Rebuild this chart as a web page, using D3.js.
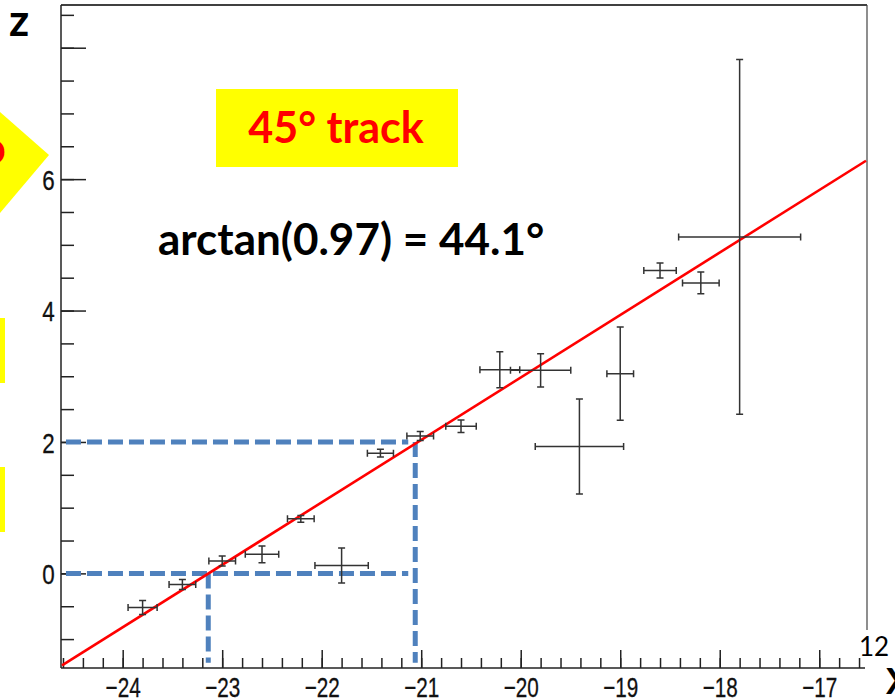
<!DOCTYPE html>
<html>
<head>
<meta charset="utf-8">
<script src="https://cdn.jsdelivr.net/npm/d3@7"></script>
<style>
  body { margin: 0; background: #fff; }
  svg { display: block; }
</style>
</head>
<body>
<svg id="chart" width="895" height="698"></svg>
<script>
// measured points (x, z) with errors
const xVals = [-23.80, -23.40, -23.00, -22.60, -22.21, -21.80, -21.41, -21.01, -20.60, -20.21, -19.80, -19.41, -19.00, -18.60, -18.19, -17.80];
const zVals = [-0.52, -0.17, 0.19, 0.29, 0.83, 0.12, 1.83, 2.09, 2.24, 3.10, 3.09, 1.93, 3.04, 4.61, 4.42, 5.12];
const xErrs = [0.146, 0.134, 0.134, 0.168, 0.134, 0.268, 0.131, 0.134, 0.153, 0.20, 0.303, 0.444, 0.134, 0.163, 0.184, 0.613];
const zErrs = [0.107, 0.076, 0.076, 0.127, 0.05, 0.266, 0.06, 0.068, 0.096, 0.274, 0.254, 0.723, 0.711, 0.114, 0.165, 2.70];

// fitted straight line (end points)
const fitX = [-24.61, -16.53];
const fitZ = [-1.40, 6.28];

// dashed guide lines: z levels and where they meet the fit
const guideZ = [0, 2];
const guideX = [-23.14, -21.06];

const xTicks = [-24, -23, -22, -21, -20, -19, -18, -17];
const yTicks = [0, 2, 4, 6, 8];
const yTickLabels = ["0", "2", "4", "6", ""];

const svg = d3.select("#chart");
const mLeft = 61, mRight = 867, mTop = 5, mBottom = 668;

const x = d3.scaleLinear().domain([-24.62, -16.52]).range([mLeft, mRight]);
const y = d3.scaleLinear().domain([-1.44, 8.65]).range([mBottom, mTop]);

// yellow decorations on the left edge
svg.append("polygon")
  .attr("points", "0,112 49,155 0,213")
  .attr("fill", "#ffff00");
svg.append("rect").attr("x", 0).attr("y", 318).attr("width", 5).attr("height", 65).attr("fill", "#ffff00");
svg.append("rect").attr("x", 0).attr("y", 467).attr("width", 5).attr("height", 65).attr("fill", "#ffff00");
svg.append("text")
  .attr("x", 6).attr("y", 164)
  .attr("text-anchor", "end")
  .style("font-family", "Lato, sans-serif").style("font-weight", "bold")
  .style("font-size", "46px").attr("fill", "#ff0000")
  .text("o");

// frame
svg.append("line").attr("x1", mLeft).attr("x2", mRight).attr("y1", mTop).attr("y2", mTop)
  .attr("stroke", "#000").attr("stroke-width", 1.5);
svg.append("line").attr("x1", mRight).attr("x2", mRight).attr("y1", mTop).attr("y2", 630)
  .attr("stroke", "#444").attr("stroke-width", 1.2);

// x axis
const xMinor = d3.range(-123, -82).map(i => i / 5);
const xAxisG = svg.append("g").attr("transform", "translate(0," + mBottom + ")");
xAxisG.append("g")
  .call(d3.axisBottom(x).tickValues(xMinor).tickSizeInner(-10).tickSizeOuter(0).tickFormat(""))
  .call(g => g.select(".domain").remove());
xAxisG.append("g")
  .call(d3.axisBottom(x).tickValues(xTicks).tickSizeInner(-18).tickSizeOuter(0).tickPadding(9))
  .call(g => g.select(".domain").attr("d", "M" + mLeft + ",0H" + (mRight - 2)));
xAxisG.selectAll("line, path").attr("stroke", "#222").attr("stroke-width", 1.5);
xAxisG.selectAll("text")
  .attr("fill", "#111").attr("stroke", "#111").attr("stroke-width", 0.3)
  .style("font-family", "'Liberation Sans', Arial, sans-serif")
  .style("font-size", "28px")
  .attr("transform", "scale(0.74,1)");

// y axis
const yMinor = d3.range(-2, 18).map(i => i / 2);
const yAxisG = svg.append("g").attr("transform", "translate(" + mLeft + ",0)");
yAxisG.append("g")
  .call(d3.axisLeft(y).tickValues(yMinor).tickSizeInner(-13).tickSizeOuter(0).tickFormat(""))
  .call(g => g.select(".domain").remove());
yAxisG.append("g")
  .call(d3.axisLeft(y).tickValues(yTicks).tickSizeInner(-25).tickSizeOuter(0).tickPadding(8)
    .tickFormat((d, i) => yTickLabels[i]))
  .call(g => g.select(".domain").attr("d", "M0," + mTop + "V" + mBottom));
yAxisG.selectAll("line, path").attr("stroke", "#222").attr("stroke-width", 1.5);
yAxisG.selectAll("text")
  .attr("fill", "#111").attr("stroke", "#111").attr("stroke-width", 0.3)
  .attr("dy", "0.36em")
  .style("font-family", "'Liberation Sans', Arial, sans-serif")
  .style("font-size", "28px")
  .attr("transform", "scale(0.8,1)");

// blue dashed guides
const guides = svg.append("g")
  .attr("stroke", "#4f81bd").attr("stroke-width", 5).attr("stroke-dasharray", "15,6").attr("fill", "none");
guideZ.forEach((z, i) => {
  guides.append("line")
    .attr("x1", x(-24.57)).attr("x2", x(guideX[1]) - 7)
    .attr("y1", y(z)).attr("y2", y(z));
  guides.append("line")
    .attr("x1", x(guideX[i])).attr("x2", x(guideX[i]))
    .attr("y1", y(z)).attr("y2", y(-1.36));
});

// fit line
svg.append("path")
  .datum(d3.zip(fitX, fitZ))
  .attr("d", d3.line().x(d => x(d[0])).y(d => y(d[1])))
  .attr("stroke", "#ff0000").attr("stroke-width", 2.6).attr("fill", "none");

// error bars
const pts = d3.range(xVals.length).map(i => ({ x: xVals[i], z: zVals[i], ex: xErrs[i], ez: zErrs[i] }));
const cap = 3.5;
const bars = svg.append("g").attr("stroke", "#333").attr("stroke-width", 1.5).attr("fill", "none");
const pg = bars.selectAll("g").data(pts).enter().append("g");
pg.append("path").attr("d", d =>
  "M" + x(d.x - d.ex) + "," + y(d.z) + "H" + x(d.x + d.ex) +
  "M" + x(d.x - d.ex) + "," + (y(d.z) - cap) + "V" + (y(d.z) + cap) +
  "M" + x(d.x + d.ex) + "," + (y(d.z) - cap) + "V" + (y(d.z) + cap));
pg.append("path").attr("d", d =>
  "M" + x(d.x) + "," + y(d.z + d.ez) + "V" + y(d.z - d.ez) +
  "M" + (x(d.x) - cap) + "," + y(d.z + d.ez) + "H" + (x(d.x) + cap) +
  "M" + (x(d.x) - cap) + "," + y(d.z - d.ez) + "H" + (x(d.x) + cap));

// annotations
svg.append("rect").attr("x", 216).attr("y", 89).attr("width", 242).attr("height", 78).attr("fill", "#ffff00");
svg.append("text")
  .attr("x", 336).attr("y", 143).attr("text-anchor", "middle")
  .style("font-family", "Lato, sans-serif").style("font-weight", "bold").style("font-size", "43px")
  .attr("fill", "#ff0000")
  .text("45° track");
svg.append("text")
  .attr("x", 158).attr("y", 255)
  .style("font-family", "Lato, sans-serif").style("font-weight", "bold").style("font-size", "44px")
  .attr("fill", "#000")
  .text("arctan(0.97) = 44.1°");

svg.append("text")
  .attr("x", 9).attr("y", 36)
  .style("font-family", "Lato, sans-serif").style("font-weight", "bold").style("font-size", "44px")
  .attr("fill", "#000")
  .text("z");
svg.append("text")
  .attr("x", 886).attr("y", 694)
  .style("font-family", "Lato, sans-serif").style("font-weight", "bold").style("font-size", "36px")
  .attr("fill", "#000")
  .text("X");
svg.append("text")
  .attr("x", 859).attr("y", 656)
  .style("font-family", "Lato, sans-serif").style("font-size", "26px")
  .attr("fill", "#000")
  .text("12");
</script>
</body>
</html>
